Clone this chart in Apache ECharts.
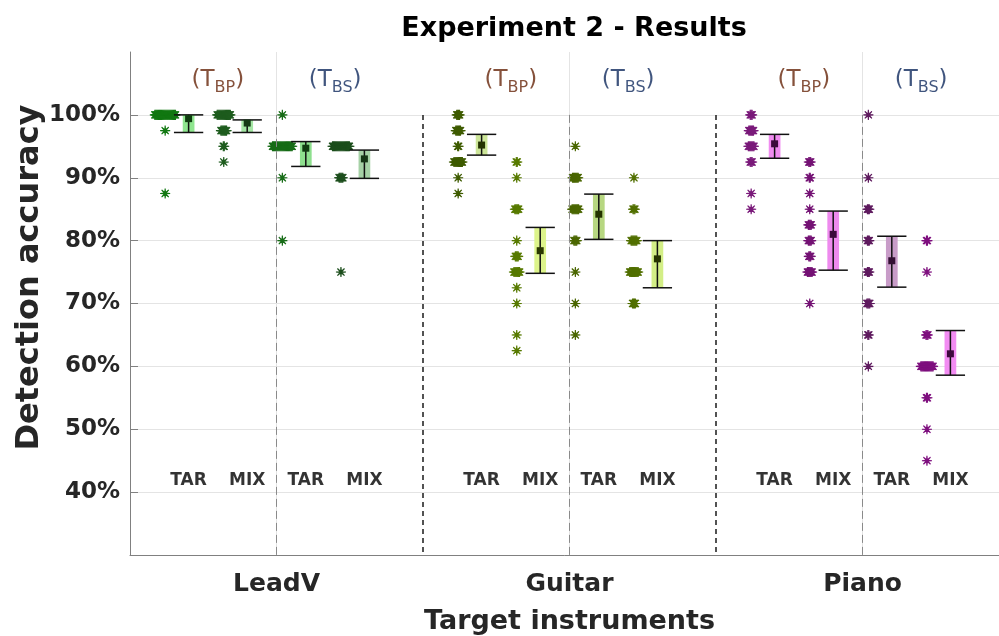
<!DOCTYPE html>
<html><head><meta charset="utf-8">
<script src="https://cdn.jsdelivr.net/npm/echarts@6/dist/echarts.min.js"></script>
<style>html,body{margin:0;padding:0;background:#fff}#c{width:999px;height:636px}</style>
</head><body><div id="c"></div>
<script>
// ---------- data ----------
const instruments = ['LeadV', 'Guitar', 'Piano'];
const targetTypes = ['BP', 'BS'];
const mixTypes = ['TAR', 'MIX'];
const yTicks = [40, 50, 60, 70, 80, 90, 100];
const groupCenters = [2.5, 7.5, 12.5];
const groupSepX = [5, 10];
const subSepX = [2.5, 7.5, 12.5];

// individual subject scores: [accuracy %, number of subjects]
const leadvBpTar  = [[100,23],[97.5,1],[87.5,1]];
const leadvBpMix  = [[100,15],[97.5,7],[95,2],[92.5,1]];
const leadvBsTar  = [[100,1],[95,22],[90,1],[80,1]];
const leadvBsMix  = [[95,19],[90,5],[75,1]];
const guitarBpTar = [[100,4],[97.5,6],[95,2],[92.5,10],[90,1],[87.5,1]];
const guitarBpMix = [[92.5,2],[90,1],[85,5],[80,1],[77.5,4],[75,7],[72.5,1],[70,1],[65,1],[62.5,1]];
const guitarBsTar = [[95,1],[90,7],[85,8],[80,4],[75,1],[70,1],[65,1]];
const guitarBsMix = [[90,1],[85,3],[80,7],[75,10],[70,4]];
const pianoBpTar  = [[100,3],[97.5,6],[95,7],[92.5,3],[87.5,1],[85,1]];
const pianoBpMix  = [[92.5,3],[90,2],[87.5,1],[85,1],[82.5,4],[80,4],[77.5,3],[75,6],[70,1]];
const pianoBsTar  = [[100,1],[90,1],[85,3],[80,3],[75,3],[70,4],[65,2],[60,1]];
const pianoBsMix  = [[80,2],[75,1],[65,3],[60,14],[55,2],[50,1],[45,1]];

// mean and interval per condition (LeadV BP TAR, BP MIX, BS TAR, BS MIX, Guitar ..., Piano ...)
const ciLow  = [97.2, 97.2, 91.8, 89.9, 93.6, 74.8, 80.2, 72.5, 93.1, 75.3, 72.6, 58.6];
const means  = [99.4, 98.7, 94.7, 93.0, 95.2, 78.4, 84.2, 77.1, 95.4, 81.0, 76.8, 62.0];
const ciHigh = [100.0, 99.2, 95.75, 94.4, 96.9, 82.1, 87.4, 80.0, 96.9, 84.7, 80.7, 65.7];

// ---------- styling ----------
const pointColors = ['#127812','#1e5c1e','#176c17','#1c4e1c','#3e5b00','#577a00','#4a6600','#516f00','#7a1a7a','#741274','#5e1a5e','#7e0f7e'];
const fillColors  = ['#8fe68f','#a4e6a4','#8edf8e','#a6d1a6','#cde699','#ddf48b','#b7d781','#d3ee86','#f08cf0','#ee8aee','#c89cc8','#f28cf2'];
const markColors  = ['#0f3d0f','#143a14','#103c10','#153515','#243300','#2a3800','#243300','#263400','#3b0b3b','#3a0a3a','#330f33','#3d0a3d'];
const FONT = 'DejaVu Sans';
const ASTERISK = 'path://M10 0 L10.6 8.5 L17.07 2.93 L11.5 9.4 L20 10 L11.5 10.6 L17.07 17.07 L10.6 11.5 L10 20 L9.4 11.5 L2.93 17.07 L8.5 10.6 L0 10 L8.5 9.4 L2.93 2.93 L9.4 8.5 Z';

const conditions = [leadvBpTar, leadvBpMix, leadvBsTar, leadvBsMix,
                    guitarBpTar, guitarBpMix, guitarBsTar, guitarBsMix,
                    pianoBpTar, pianoBpMix, pianoBsTar, pianoBsMix];
const GROUP_W = 5, POINT_OFFSET = 0.4, SPREAD_STEP = 0.016;
function barX(k) { return GROUP_W * Math.floor(k / 4) + (k % 4) + 1; }

const pointSeries = conditions.map((cond, k) => {
  const data = [];
  const cx = barX(k) - POINT_OFFSET;
  cond.forEach(([v, n]) => {
    for (let i = 0; i < n; i++) data.push([cx + (i - (n - 1) / 2) * SPREAD_STEP, v]);
  });
  return {
    type: 'scatter', data, symbol: ASTERISK, symbolSize: 10, silent: true, z: 3,
    itemStyle: { color: pointColors[k], borderColor: pointColors[k], borderWidth: 1.1, opacity: 1 }
  };
});

const errData = means.map((m, k) => [barX(k), ciLow[k], m, ciHigh[k], k]);
const errSeries = {
  type: 'custom', z: 4, silent: true, data: errData,
  renderItem: (params, api) => {
    const x = api.value(0), lo = api.value(1), mu = api.value(2), hi = api.value(3), k = api.value(4);
    const pLo = api.coord([x, lo]), pHi = api.coord([x, hi]), pMu = api.coord([x, mu]);
    const hb = api.size([0.1, 0])[0], hc = api.size([0.25, 0])[0];
    const px = pLo[0];
    return {
      type: 'group', children: [
        { type: 'rect', shape: { x: px - hb, y: pHi[1], width: 2 * hb, height: pLo[1] - pHi[1] }, style: { fill: fillColors[k] } },
        { type: 'line', shape: { x1: px, y1: pHi[1], x2: px, y2: pLo[1] }, style: { stroke: '#111', lineWidth: 1.5 } },
        { type: 'line', shape: { x1: px - hc, y1: pHi[1], x2: px + hc, y2: pHi[1] }, style: { stroke: '#111', lineWidth: 1.5 } },
        { type: 'line', shape: { x1: px - hc, y1: pLo[1], x2: px + hc, y2: pLo[1] }, style: { stroke: '#111', lineWidth: 1.5 } },
        { type: 'rect', shape: { x: pMu[0] - 3.5, y: pMu[1] - 3.5, width: 7, height: 7 }, style: { fill: markColors[k] } }
      ]
    };
  }
};

const mixLabelData = means.map((m, k) => [barX(k), 41.8, mixTypes[k % 2]]);
const mixLabelSeries = {
  type: 'scatter', symbolSize: 1, silent: true, z: 5, data: mixLabelData,
  itemStyle: { color: 'transparent' },
  label: { show: true, position: 'inside', formatter: p => p.value[2],
    fontFamily: FONT, fontWeight: 'bold', fontSize: 17, color: '#000' },
  markLine: {
    symbol: 'none', silent: true, label: { show: false }, animation: false,
    data: subSepX.map(x => [{ coord: [x, 100], lineStyle: { color: '#8a8a8a', type: [8, 4], width: 1 } }, { coord: [x, 30] }])
      .concat(groupSepX.map(x => [{ coord: [x, 100], lineStyle: { color: '#1a1a1a', type: [5, 4], width: 1.5 } }, { coord: [x, 30] }]))
  }
};

const tLabelData = [];
instruments.forEach((ins, g) => targetTypes.forEach((t, j) => tLabelData.push([GROUP_W * g + 1.5 + 2 * j, 105.6, j])));
const tColors = ['#66260a', '#102a5e'];
const tLabelSeries = {
  type: 'scatter', symbolSize: 1, silent: true, z: 5, data: tLabelData,
  itemStyle: { color: 'transparent' },
  label: { show: true, position: 'inside',
    formatter: p => { const j = p.value[2]; return `{p${j}|(T}{s${j}|${targetTypes[j]}}{p${j}|)}`; },
    rich: {
      p0: { fontFamily: FONT, fontSize: 23, color: tColors[0] },
      s0: { fontFamily: FONT, fontSize: 16, color: tColors[0], padding: [16, 0, 0, 0] },
      p1: { fontFamily: FONT, fontSize: 23, color: tColors[1] },
      s1: { fontFamily: FONT, fontSize: 16, color: tColors[1], padding: [16, 0, 0, 0] }
    }
  }
};

const chart = echarts.init(document.getElementById('c'));
chart.setOption({
  animation: false,
  backgroundColor: '#fff',
  title: {
    text: 'Experiment 2 - Results', left: 569, top: 10, textAlign: 'center',
    textStyle: { fontFamily: FONT, fontWeight: 'bold', fontSize: 27, color: '#000' }
  },
  grid: { left: 130, right: -10, top: 52, bottom: 81, outerBoundsMode: 'none', containLabel: false },
  xAxis: {
    type: 'value', min: 0, max: 15, interval: 2.5,
    axisLine: { show: true, onZero: false, lineStyle: { color: '#808080', width: 1 } },
    axisTick: { show: false, customValues: groupCenters },
    axisLabel: { customValues: groupCenters, formatter: v => instruments[Math.floor(v / GROUP_W)],
      margin: 17, fontFamily: FONT, fontWeight: 'bold', fontSize: 25, color: '#262626' },
    splitLine: { show: true, lineStyle: { color: '#e4e4e4', width: 1 } },
    name: 'Target instruments', nameLocation: 'middle', nameGap: 53, nameMoveOverlap: false,
    nameTextStyle: { fontFamily: FONT, fontWeight: 'bold', fontSize: 27, color: '#262626' }
  },
  yAxis: {
    type: 'value', min: 30, max: 110, interval: 10,
    axisLine: { show: true, lineStyle: { color: '#808080', width: 1 } },
    axisTick: { show: true, inside: true, length: 8, customValues: yTicks, lineStyle: { color: '#808080' } },
    axisLabel: { customValues: yTicks, formatter: v => v + '%', margin: 10,
      fontFamily: FONT, fontWeight: 'bold', fontSize: 23, color: '#262626' },
    splitLine: { show: true, lineStyle: { color: '#e4e4e4', width: 1 } },
    name: 'Detection accuracy', nameLocation: 'middle', nameGap: 84, nameMoveOverlap: false,
    nameTextStyle: { fontFamily: FONT, fontWeight: 'bold', fontSize: 32, color: '#262626', padding: [0, 0, 0, 52] }
  },
  series: [mixLabelSeries, ...pointSeries, errSeries, tLabelSeries]
});
</script>
</body></html>
